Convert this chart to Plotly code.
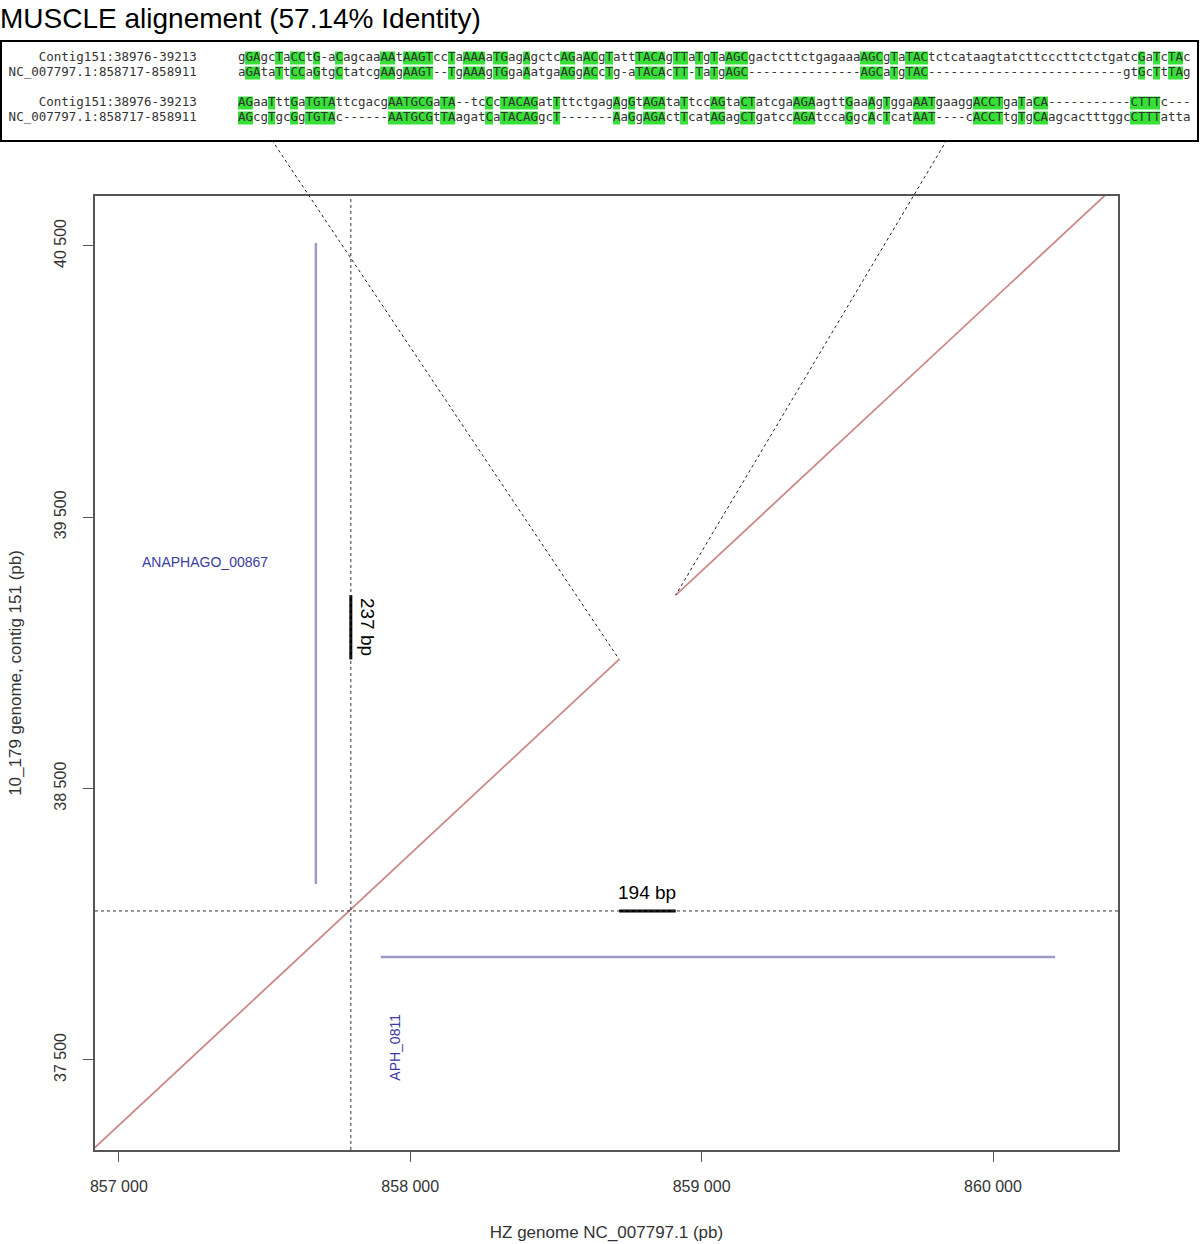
"""Dot plot of contig 151 vs HZ genome with the MUSCLE alignment of the gap region."""

import numpy as np
import plotly.graph_objects as go

# --- data -------------------------------------------------------------------
aln_labels = ["Contig151:38976-39213", "NC_007797.1:858717-858911"]
aln_block1 = [
    "gGAgcTaCCtG-aCagcaaAAtAAGTccTaAAAaTGagAgctcAGaACgTattTACAgTTaTgTaAGCgactcttctgagaaaAGCgTaTACtctcataagtatcttcccttctctgatcGaTcTAc",
    "aGAtaTtCCaGtgCtatcgAAgAAGT--TgAAAgTGgaAatgaAGgACcTg-aTACAcTT-TaTgAGC---------------AGCaTgTAC--------------------------gtGcTtTAg",
]
aln_block2 = [
    "AGaaTttGaTGTAttcgacgAATGCGaTA--tcCcTACAGatTttctgagAgGtAGAtaTtccAGtaCTatcgaAGAagttGaaAgTggaAATgaaggACCTgaTaCA-----------CTTTc---",
    "AGcgTgcGgTGTAc------AATGCGtTAagatCaTACAGgcT-------AaGgAGActTcatAGagCTgatccAGAtccaGgcAcTcatAAT----cACCTtgTgCAagcactttggcCTTTatta",
]

# dot plot matches (HZ position, contig position)
match1_x = [856900, 858717]
match1_y = [37159, 38976]
match2_x = [858911, 860450]
match2_y = [39213, 40752]

# annotated genes
gene_v_x = [857676, 857676]
gene_v_y = [40511, 38148]
gene_h_x = [857899, 860213]
gene_h_y = [37879, 37879]

# markers of the insertion point and gap sizes
cross_x = 857796
cross_y = 38049
gap_y = [38976, 39213]     # 237 bp on contig
gap_x = [858717, 858911]   # 194 bp on HZ

x_ticks = [857000, 858000, 859000, 860000]
y_ticks = [37500, 38500, 39500, 40500]

# --- geometry ---------------------------------------------------------------
X_RANGE = [856918, 860429]
Y_RANGE = [37168, 40684]
X_DOM = [0.07782, 0.93389]
Y_DOM = [0.0, 0.86101]
A_XRANGE = [-31.97, 127.37]
A_YRANGE = [5.467, -1.067]
A_YDOM = [0.91155, 1.0]


def main_to_paper(x, y):
    px = X_DOM[0] + (x - X_RANGE[0]) / (X_RANGE[1] - X_RANGE[0]) * (X_DOM[1] - X_DOM[0])
    py = Y_DOM[0] + (y - Y_RANGE[0]) / (Y_RANGE[1] - Y_RANGE[0]) * (Y_DOM[1] - Y_DOM[0])
    return px, py


def aln_x_to_paper(i):
    return (i - A_XRANGE[0]) / (A_XRANGE[1] - A_XRANGE[0])


FONT = "Liberation Sans, Arial, sans-serif"
MONO = "DejaVu Sans Mono, monospace"

fig = go.Figure()

# --- alignment panel --------------------------------------------------------
lines = [aln_block1[0], aln_block1[1], None, aln_block2[0], aln_block2[1]]
ncol = len(aln_block1[0])
z = np.full((len(lines), ncol), np.nan)
tx, ty, tt = [], [], []
for r, s in enumerate(lines):
    if s is None:
        continue
    for i, ch in enumerate(s):
        if ch.isupper():
            z[r, i] = 1
        tx.append(i)
        ty.append(r)
        tt.append(ch)

fig.add_trace(go.Heatmap(
    z=z, x=list(range(ncol)), y=list(range(len(lines))),
    colorscale=[[0, "#36e036"], [1, "#36e036"]], showscale=False,
    xgap=0, ygap=2, hoverinfo="skip", xaxis="x2", yaxis="y2",
))
fig.add_trace(go.Scatter(
    x=tx, y=ty, text=tt, mode="text", xaxis="x2", yaxis="y2",
    textfont=dict(family=MONO, size=12.5, color="#333333"),
    hoverinfo="skip", showlegend=False,
))
lab_y = [0, 1, 3, 4]
fig.add_trace(go.Scatter(
    x=[-6] * 4, y=lab_y, text=aln_labels * 2, mode="text",
    textposition="middle left", xaxis="x2", yaxis="y2",
    textfont=dict(family=MONO, size=12.5, color="#333333"),
    hoverinfo="skip", showlegend=False,
))

# --- dot plot ---------------------------------------------------------------
for gx, gy in [(gene_v_x, gene_v_y), (gene_h_x, gene_h_y)]:
    fig.add_trace(go.Scatter(x=gx, y=gy, mode="lines",
                             line=dict(color="#9b9bc9", width=2.5), showlegend=False))

for mx, my in [(match1_x, match1_y), (match2_x, match2_y)]:
    fig.add_trace(go.Scatter(x=mx, y=my, mode="lines",
                             line=dict(color="#cc8888", width=1.8), showlegend=False))

fig.add_vline(x=cross_x, line=dict(color="#333333", width=1, dash="dot"))
fig.add_hline(y=cross_y, line=dict(color="#333333", width=1, dash="dot"))

# gap scale bars
fig.add_trace(go.Scatter(x=[cross_x, cross_x], y=gap_y, mode="lines",
                         line=dict(color="black", width=3), showlegend=False))
fig.add_trace(go.Scatter(x=gap_x, y=[cross_y, cross_y], mode="lines",
                         line=dict(color="black", width=3), showlegend=False))

fig.add_annotation(x=cross_x, y=np.mean(gap_y), text="237 bp", textangle=90,
                   showarrow=False, xanchor="left", xshift=4,
                   font=dict(family=FONT, size=19, color="black"))
fig.add_annotation(x=np.mean(gap_x), y=cross_y, text="194 bp",
                   showarrow=False, yanchor="bottom", yshift=6,
                   font=dict(family=FONT, size=19, color="black"))

fig.add_annotation(x=857295, y=39335, text="ANAPHAGO_00867", showarrow=False,
                   font=dict(family=FONT, size=14, color="#3b3ba0"))
fig.add_annotation(x=857947, y=37548, text="APH_0811", textangle=-90, showarrow=False,
                   font=dict(family=FONT, size=14, color="#3b3ba0"))

# connectors from alignment box to the match ends
for ai, (mx, my) in [(4, (match1_x[1], match1_y[1])), (94, (match2_x[0], match2_y[0]))]:
    px, py = main_to_paper(mx, my)
    fig.add_shape(type="line", xref="paper", yref="paper",
                  x0=aln_x_to_paper(ai), y0=A_YDOM[0], x1=px, y1=py,
                  line=dict(color="#222222", width=1, dash="dot"))

axis_common = dict(showgrid=False, zeroline=False, showline=True, mirror=True,
                   linecolor="#555555", linewidth=1.5, ticks="outside", ticklen=10,
                   tickcolor="#555555", tickformat=",d", automargin=False,
                   tickfont=dict(family=FONT, size=16, color="#333333"))
box_axis = dict(showgrid=False, zeroline=False, showticklabels=False, ticks="",
                showline=True, mirror=True, linecolor="black", linewidth=2,
                automargin=False)

fig.update_layout(
    width=1200, height=1244,
    margin=dict(l=2, r=3, t=42, b=94),
    paper_bgcolor="white", plot_bgcolor="white",
    separators=". ",
    showlegend=False,
    title=dict(text="MUSCLE alignement (57.14% Identity)", xref="container", x=0.0,
               xanchor="left", y=1 - 18 / 1244, yanchor="middle",
               font=dict(family=FONT, size=28, color="black")),
    xaxis=dict(domain=X_DOM, range=X_RANGE, tickvals=x_ticks, anchor="y",
               ticklabelstandoff=11,
               title=dict(text="HZ genome NC_007797.1 (pb)", standoff=32,
                          font=dict(family=FONT, size=17, color="#333333")),
               **axis_common),
    yaxis=dict(domain=Y_DOM, range=Y_RANGE, tickvals=y_ticks, anchor="x",
               tickangle=-90, ticklabelstandoff=11,
               title=dict(text="10_179 genome, contig 151 (pb)", standoff=26,
                          font=dict(family=FONT, size=17, color="#333333")),
               **axis_common),
    xaxis2=dict(domain=[0, 1], range=A_XRANGE, anchor="y2", **box_axis),
    yaxis2=dict(domain=A_YDOM, range=A_YRANGE, anchor="x2", **box_axis),
)

# page body has a default margin; drop it so the figure fills the window exactly
fig.write_html("out.html", config={"displayModeBar": False},
               post_script="document.body.style.margin='0';")
